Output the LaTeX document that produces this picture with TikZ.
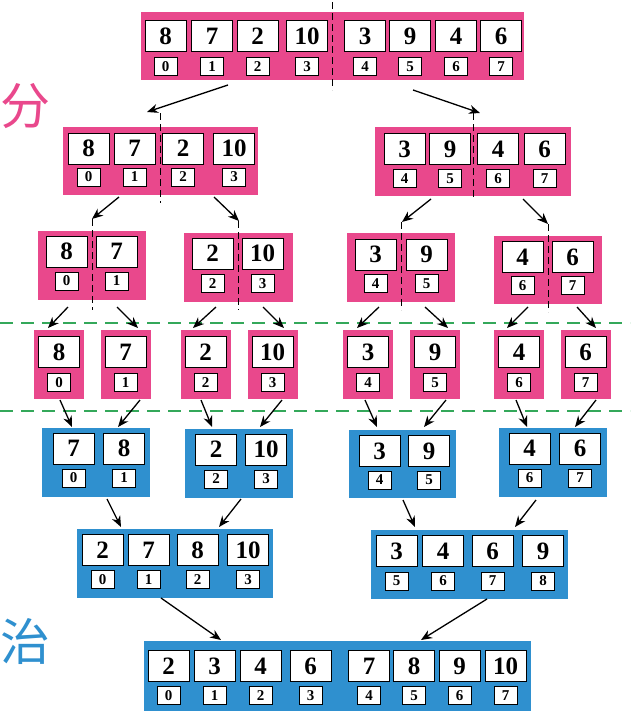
\documentclass[tikz,border=0pt]{standalone}
\usepackage{fontspec}
\setmainfont{Liberation Serif}
\newfontfamily\cjk{Noto Sans CJK SC}
\usetikzlibrary{arrows.meta,calc}
\definecolor{fenpink}{RGB}{233,72,140}
\definecolor{zhiblue}{RGB}{47,144,207}
\definecolor{cutgreen}{RGB}{52,168,90}
\tikzset{
  box/.style={inner sep=0pt, outer sep=0pt},
  pinkbox/.style={box, fill=fenpink},
  bluebox/.style={box, fill=zhiblue},
  val/.style={draw, line width=0.8pt, fill=white, minimum width=41pt, minimum height=31pt, inner sep=0pt, font=\fontsize{25}{25}\selectfont\bfseries},
  idx/.style={draw, line width=0.8pt, fill=white, minimum width=23pt, minimum height=18pt, inner sep=0pt, font=\fontsize{15}{15}\selectfont\bfseries},
  arr/.style={-{Stealth[length=11pt,width=9pt]}, line width=1.3pt},
  split/.style={dash pattern=on 7pt off 4pt, line width=1pt},
  cut/.style={cutgreen, dash pattern=on 13pt off 8pt, line width=1.5pt},
}
% one row of value boxes with their index boxes
\newcommand\cells[4]{%
  \foreach \x/\v/\i [count=\k] in {#4} {
    \node[val] (#1-v\k) at (\x,#2) {\v};
    \node[idx] (#1-i\k) at (\x,#3) {\i};
  }}
\begin{document}
\begin{tikzpicture}[x=1pt,y=-1pt]
  \useasboundingbox (0,0) rectangle (630,715);

  % divide
  \node[text=fenpink, font=\cjk\fontsize{50}{50}\selectfont] (fen) at (26,106) {分};
  \node[pinkbox, minimum width=383pt, minimum height=68pt] (T) at (332.5,46) {};
  \node[pinkbox, minimum width=195pt, minimum height=68pt] (L2a) at (160.5,161) {};
  \node[pinkbox, minimum width=196pt, minimum height=69pt] (L2b) at (473,161.5) {};
  \node[pinkbox, minimum width=108pt, minimum height=69pt] (L3a) at (92,265.5) {};
  \node[pinkbox, minimum width=109pt, minimum height=69pt] (L3b) at (238.5,267.5) {};
  \node[pinkbox, minimum width=108pt, minimum height=69pt] (L3c) at (401,267.5) {};
  \node[pinkbox, minimum width=108pt, minimum height=68pt] (L3d) at (548,270) {};

  \draw[split] ($(T.north)+(0,-10)$) -- ($(T.south)+(0,10)$);
  \draw[split] ($(L2a.north)+(0,-14)$) -- ($(L2a.south)+(0,8)$);
  \draw[split] ($(L2b.north)+(0,-14)$) -- ($(L2b.south)+(0,4)$);
  \draw[split] ($(L3a.north)+(0,-12)$) -- ($(L3a.south)+(0,10)$);
  \draw[split] ($(L3b.north)+(0,-12)$) -- ($(L3b.south)+(0,8)$);
  \draw[split] ($(L3c.north)+(0,-11)$) -- ($(L3c.south)+(0,8)$);
  \draw[split] ($(L3d.north)+(0,-12)$) -- ($(L3d.south)+(0,8)$);

  \cells{T}{36}{66.5}{165.5/8/0, 212/7/1, 257.5/2/2, 307/10/3, 365/3/4, 410/9/5, 456/4/6, 501/6/7}
  \cells{L2a}{148.5}{177}{88.5/8/0, 134.5/7/1, 183/2/2, 234/10/3}
  \cells{L2b}{149}{178.5}{404.5/3/4, 450/9/5, 498/4/6, 544.5/6/7}
  \cells{L3a}{251.5}{281}{66.5/8/0, 116.5/7/1}
  \cells{L3b}{253.5}{283.5}{212.5/2/2, 262.5/10/3}
  \cells{L3c}{254.5}{283.5}{375.5/3/4, 426.5/9/5}
  \cells{L3d}{257}{285.5}{522.5/4/6, 572.5/6/7}

  % single elements
  \foreach \x/\v/\i/\n in {59/8/0/a, 125.5/7/1/b, 205.5/2/2/c, 272.5/10/3/d, 368/3/4/e, 435/9/5/f, 519/4/6/g, 585.5/6/7/h} {
    \node[pinkbox, minimum width=50pt, minimum height=69pt] (L4\n) at (\x,364.5) {};
    \node[val] (L4\n-v1) at (\x,352) {\v};
    \node[idx] (L4\n-i1) at (\x,382.5) {\i};
  }

  % conquer
  \node[text=zhiblue, font=\cjk\fontsize{50}{50}\selectfont] (zhi) at (25,641) {治};
  \node[bluebox, minimum width=108pt, minimum height=69pt] (L5a) at (96,462.5) {};
  \node[bluebox, minimum width=108pt, minimum height=69pt] (L5b) at (239,463.5) {};
  \node[bluebox, minimum width=107pt, minimum height=68pt] (L5c) at (402.5,464) {};
  \node[bluebox, minimum width=108pt, minimum height=69pt] (L5d) at (553,462.5) {};
  \node[bluebox, minimum width=196pt, minimum height=69pt] (L6a) at (175,563.5) {};
  \node[bluebox, minimum width=197pt, minimum height=69pt] (L6b) at (469.5,564.5) {};
  \node[bluebox, minimum width=387pt, minimum height=70pt] (L7) at (337.5,676) {};

  \cells{L5a}{448.5}{478}{73.5/7/0, 124/8/1}
  \cells{L5b}{449.5}{479}{216/2/2, 266/10/3}
  \cells{L5c}{451}{480}{379.5/3/4, 429/9/5}
  \cells{L5d}{448.5}{478}{529.5/4/6, 580/6/7}
  \cells{L6a}{550}{579.5}{102.5/2/0, 148.5/7/1, 197.5/8/2, 248/10/3}
  \cells{L6b}{551}{581}{396.5/3/5, 443/4/6, 492.5/6/7, 543/9/8}
  \cells{L7}{666}{695.5}{168.5/2/0, 214.5/3/1, 260.5/4/2, 310.5/6/3, 369/7/4, 414/8/5, 459.5/9/6, 505.5/10/7}

  % green cut lines
  \coordinate (cut1w) at (0,323);
  \coordinate (cut1e) at (630,323);
  \coordinate (cut2w) at (0,411);
  \coordinate (cut2e) at (630,411);
  \draw[cut] (cut1w) -- (cut1e);
  \draw[cut] (cut2w) -- (cut2e);

  \draw[arr] ($(T.south)+(-104.5,5)$) -- ($(L2a.north)+(-13.5,-15)$);
  \draw[arr] ($(T.south)+(80.5,10)$) -- ($(L2b.north)+(7,-14)$);
  \draw[arr] ($(L2a.south)+(-41.5,2)$) -- ($(L3a.north)+(0,-12)$);
  \draw[arr] ($(L2a.south)+(53.5,2)$) -- ($(L3b.north)+(0.5,-12)$);
  \draw[arr] ($(L2b.south)+(-42,3)$) -- ($(L3c.north)+(1,-11)$);
  \draw[arr] ($(L2b.south)+(50,3)$) -- ($(L3d.north)+(0,-12)$);

  \draw[arr] ($(L3a.south)+(-24,7)$) -- ($(L4a.north)+(-11,-2)$);
  \draw[arr] ($(L3a.south)+(25,7)$) -- ($(L4b.north)+(12.5,-2)$);
  \draw[arr] ($(L3b.south)+(-22.5,5)$) -- ($(L4c.north)+(-12.5,-2)$);
  \draw[arr] ($(L3b.south)+(24.5,5)$) -- ($(L4d.north)+(11.5,-2)$);
  \draw[arr] ($(L3c.south)+(-22,5)$) -- ($(L4e.north)+(-11,-2)$);
  \draw[arr] ($(L3c.south)+(24,5)$) -- ($(L4f.north)+(13,-2)$);
  \draw[arr] ($(L3d.south)+(-20,3)$) -- ($(L4g.north)+(-12,-2)$);
  \draw[arr] ($(L3d.south)+(29,3)$) -- ($(L4h.north)+(10.5,-2)$);

  \draw[arr] ($(L4a.south)+(1,1)$) -- ($(L5a.north)+(-24,-1)$);
  \draw[arr] ($(L4b.south)+(14.5,1)$) -- ($(L5a.north)+(22,-1)$);
  \draw[arr] ($(L4c.south)+(-4.5,1)$) -- ($(L5b.north)+(-27,-2)$);
  \draw[arr] ($(L4d.south)+(9.5,1)$) -- ($(L5b.north)+(21,-2)$);
  \draw[arr] ($(L4e.south)+(-3,1)$) -- ($(L5c.north)+(-25.5,-3)$);
  \draw[arr] ($(L4f.south)+(11,1)$) -- ($(L5c.north)+(21.5,-3)$);
  \draw[arr] ($(L4g.south)+(-3,1)$) -- ($(L5d.north)+(-26,-1)$);
  \draw[arr] ($(L4h.south)+(10.5,1)$) -- ($(L5d.north)+(22,-1)$);

  \draw[arr] ($(L5a.south)+(11,2)$) -- ($(L6a.north)+(-54,-2)$);
  \draw[arr] ($(L5b.south)+(2,1)$) -- ($(L6a.north)+(44,-2)$);
  \draw[arr] ($(L5c.south)+(0.5,2)$) -- ($(L6b.north)+(-54.5,-3)$);
  \draw[arr] ($(L5d.south)+(-17,3)$) -- ($(L6b.north)+(45.5,-3)$);

  \draw[arr] ($(L6a.south)+(-14,0)$) -- ($(L7.north)+(-116.5,-1)$);
  \draw[arr] ($(L6b.south)+(17.5,0)$) -- ($(L7.north)+(83.5,-1)$);
\end{tikzpicture}
\end{document}
